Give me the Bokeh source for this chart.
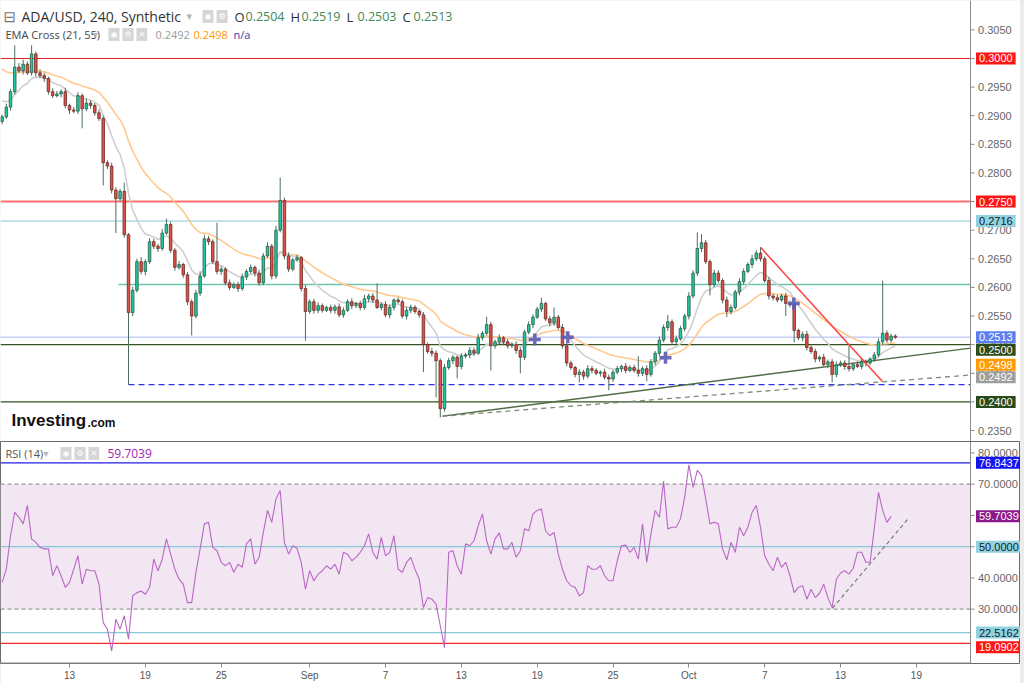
import numpy as np
from bokeh.plotting import figure
from bokeh.models import Range1d, Label, FixedTicker, ColumnDataSource, BoxAnnotation
from bokeh.core.properties import value
from bokeh.layouts import column
from bokeh.embed import file_html
from bokeh.resources import INLINE

# ---------------- data ----------------
start_day = 6.6667          # first candle, days after Aug 1 00:00
step_day = 1.0 / 3.0        # one candle per 8 hours
first_open = 0.2890

close = [
    0.2898, 0.2915, 0.2942, 0.2985, 0.2978, 0.2990, 0.2975, 0.3008, 0.2975, 0.2970,
    0.2965, 0.2942, 0.2935, 0.2938, 0.2942, 0.2918, 0.2910, 0.2908, 0.2935, 0.2912,
    0.2922, 0.2918, 0.2905, 0.2895, 0.2818, 0.2812, 0.2770, 0.2755, 0.2768, 0.2692,
    0.2556, 0.2595, 0.2645, 0.2628, 0.2645, 0.2680, 0.2672, 0.2668, 0.2695, 0.2710,
    0.2665, 0.2635, 0.2640, 0.2622, 0.2575, 0.2550, 0.2590, 0.2620, 0.2685, 0.2680,
    0.2645, 0.2628, 0.2632, 0.2608, 0.2600, 0.2605, 0.2598, 0.2618, 0.2628, 0.2635,
    0.2625, 0.2608, 0.2655, 0.2672, 0.2620, 0.2700, 0.2752, 0.2655, 0.2632, 0.2648,
    0.2652, 0.2598, 0.2558, 0.2575, 0.2560, 0.2568, 0.2560, 0.2565, 0.2560, 0.2566,
    0.2552, 0.2560, 0.2575, 0.2568, 0.2572, 0.2565, 0.2580, 0.2585, 0.2578, 0.2565,
    0.2570, 0.2552, 0.2565, 0.2578, 0.2575, 0.2550, 0.2560, 0.2565, 0.2558, 0.2552,
    0.2500, 0.2488, 0.2485, 0.2472, 0.2388, 0.2460, 0.2472, 0.2478, 0.2462, 0.2480,
    0.2482, 0.2490, 0.2485, 0.2512, 0.2520, 0.2535, 0.2498, 0.2505, 0.2512, 0.2505,
    0.2498, 0.2500, 0.2490, 0.2478, 0.2522, 0.2535, 0.2548, 0.2562, 0.2572, 0.2545,
    0.2538, 0.2548, 0.2530, 0.2498, 0.2468, 0.2460, 0.2448, 0.2452, 0.2445, 0.2458,
    0.2455, 0.2450, 0.2452, 0.2443, 0.2440, 0.2452, 0.2458, 0.2462, 0.2455, 0.2460,
    0.2455, 0.2450, 0.2458, 0.2448, 0.2470, 0.2485, 0.2508, 0.2530, 0.2540, 0.2505,
    0.2510, 0.2528, 0.2550, 0.2585, 0.2625, 0.2668, 0.2678, 0.2645, 0.2605, 0.2625,
    0.2612, 0.2578, 0.2558, 0.2565, 0.2592, 0.2610, 0.2628, 0.2640, 0.2650, 0.2660,
    0.2650, 0.2612, 0.2585, 0.2582, 0.2578, 0.2585, 0.2572, 0.2570, 0.2525, 0.2512,
    0.2518, 0.2495, 0.2488, 0.2475, 0.2478, 0.2465, 0.2470, 0.2448, 0.2465, 0.2468,
    0.2462, 0.2458, 0.2465, 0.2462, 0.2470, 0.2468, 0.2475, 0.2482, 0.2505, 0.2520,
    0.2508, 0.2515, 0.2513,
]

# wick lengths above / below the body, in units of 0.0001
upper_wick = [
    4, 6, 5, 38, 7, 8, 5, 15, 4, 6,
    5, 3, 6, 5, 4, 7, 3, 5, 6, 4,
    8, 5, 4, 6, 5, 4, 6, 5, 4, 15,
    3, 6, 5, 8, 4, 6, 5, 4, 7, 10,
    5, 4, 6, 3, 5, 4, 6, 8, 7, 5,
    4, 68, 5, 3, 6, 4, 5, 6, 4, 5,
    3, 6, 5, 7, 4, 8, 40, 5, 6, 4,
    5, 3, 6, 4, 5, 6, 4, 3, 5, 4,
    6, 5, 4, 6, 3, 5, 7, 4, 5, 29,
    4, 6, 5, 3, 5, 4, 6, 5, 4, 3,
    5, 4, 6, 5, 4, 6, 5, 4, 3, 5,
    4, 6, 5, 7, 4, 14, 5, 4, 6, 3,
    5, 4, 6, 5, 4, 6, 5, 4, 10, 3,
    5, 17, 4, 6, 5, 4, 3, 5, 4, 6,
    5, 4, 3, 6, 5, 4, 5, 3, 6, 4,
    5, 25, 4, 6, 5, 4, 6, 5, 12, 4,
    6, 5, 4, 7, 5, 28, 15, 5, 4, 6,
    5, 4, 6, 5, 4, 6, 5, 4, 7, 5,
    10, 4, 6, 3, 5, 4, 6, 5, 4, 3,
    5, 6, 4, 5, 3, 6, 4, 5, 6, 4,
    5, 36, 4, 6, 5, 4, 3, 5, 6, 92,
    5, 4, 3,
]
lower_wick = [
    5, 4, 6, 5, 3, 6, 4, 5, 7, 4,
    6, 5, 4, 3, 6, 5, 7, 4, 5, 34,
    4, 6, 5, 4, 40, 5, 6, 60, 4, 5,
    126, 6, 4, 5, 7, 4, 5, 6, 4, 3,
    5, 6, 4, 5, 6, 34, 4, 5, 3, 6,
    4, 5, 6, 4, 5, 3, 6, 4, 5, 4,
    6, 5, 4, 3, 6, 5, 4, 6, 5, 4,
    3, 5, 51, 4, 6, 5, 4, 3, 5, 6,
    4, 5, 3, 6, 4, 5, 4, 6, 5, 3,
    5, 4, 6, 5, 3, 4, 6, 5, 4, 5,
    48, 4, 6, 64, 15, 5, 4, 6, 21, 5,
    4, 6, 5, 3, 5, 4, 43, 5, 4, 6,
    5, 4, 6, 28, 5, 4, 6, 3, 5, 4,
    6, 5, 4, 5, 6, 4, 5, 14, 6, 4,
    5, 3, 6, 4, 20, 5, 4, 6, 5, 3,
    4, 6, 5, 12, 4, 6, 5, 4, 6, 5,
    4, 3, 5, 6, 4, 5, 6, 4, 19, 5,
    4, 6, 10, 5, 4, 6, 5, 3, 6, 4,
    5, 4, 6, 5, 4, 3, 22, 5, 21, 4,
    6, 5, 4, 6, 5, 3, 6, 14, 5, 4,
    6, 5, 4, 3, 5, 6, 4, 5, 4, 6,
    5, 4, 3,
]

rsi = [
    38.6, 42.8, 53.5, 61.0, 59.4, 57.3, 63.2, 52.5, 51.4, 49.8,
    49.3, 49.3, 40.7, 43.9, 40.7, 37.0, 38.6, 42.8, 47.1, 38.0,
    42.8, 42.3, 42.3, 38.0, 25.7, 23.6, 16.6, 26.8, 23.6, 27.9,
    20.4, 34.3, 35.3, 35.8, 34.8, 37.0, 46.0, 42.3, 46.0, 52.5,
    47.6, 42.8, 39.6, 38.0, 32.1, 32.1, 41.8, 49.3, 57.3, 57.8,
    49.8, 48.7, 45.0, 43.9, 45.0, 41.8, 44.4, 43.4, 50.9, 52.5,
    44.4, 46.6, 54.6, 61.6, 57.8, 65.3, 68.0, 51.4, 47.6, 50.3,
    49.5, 45.0, 36.4, 42.3, 39.1, 41.2, 42.3, 43.9, 42.8, 44.4,
    41.2, 48.2, 47.6, 45.5, 46.6, 48.2, 50.3, 54.1, 48.2, 46.0,
    53.0, 47.1, 48.2, 53.5, 42.8, 41.8, 45.0, 46.6, 42.8, 39.6,
    30.5, 33.7, 33.2, 31.6, 24.7, 17.7, 48.2, 48.7, 43.9, 41.2,
    50.9, 50.3, 51.9, 56.7, 60.5, 51.9, 47.6, 52.5, 54.4, 49.3,
    49.3, 51.4, 46.6, 48.7, 55.7, 55.1, 60.5, 61.6, 62.1, 55.1,
    53.5, 54.6, 47.6, 42.8, 39.1, 37.5, 37.0, 34.3, 35.3, 43.9,
    42.8, 42.8, 43.9, 40.7, 39.1, 39.1, 45.5, 50.3, 50.5, 48.2,
    49.8, 46.0, 57.3, 45.0, 54.1, 61.6, 59.4, 71.0, 55.7, 56.2,
    56.2, 58.9, 65.8, 76.2, 69.0, 74.4, 72.8, 65.3, 57.3, 57.8,
    57.3, 49.3, 45.8, 51.4, 48.2, 56.2, 53.5, 56.2, 61.0, 63.2,
    56.2, 47.1, 44.4, 42.3, 46.6, 43.4, 45.0, 40.7, 35.3, 37.0,
    37.5, 33.2, 36.4, 33.7, 35.1, 38.0, 33.7, 30.5, 39.6, 41.6,
    42.3, 41.2, 43.1, 48.2, 48.2, 45.0, 45.0, 55.7, 67.4, 61.6,
    57.8, 59.7,
]

ema_fast_seed = 0.2932   # EMA(21) value at the left edge
ema_slow_seed = 0.2988   # EMA(55) value at the left edge

tick_days = [12, 18, 24, 31, 37, 43, 49, 55, 61, 67, 73, 79]
tick_labels = ["13", "19", "25", "Sep", "7", "13", "19", "25", "Oct", "7", "13", "19"]
price_ticks = [0.2350, 0.2400, 0.2450, 0.2500, 0.2550, 0.2600, 0.2650, 0.2700,
               0.2750, 0.2800, 0.2850, 0.2900, 0.2950, 0.3000, 0.3050]
rsi_ticks = [30, 40, 50, 60, 70, 80]

# horizontal price levels
level_red_top = 0.3000
level_red_mid = 0.2750
level_blue_lt = 0.2716
level_teal = 0.2605
level_teal_from = 15.88
level_green_hi = 0.2500
level_green_lo = 0.2400
level_dash_blue = 0.2430
level_dash_from = 16.67
last_price = 0.2513

trend_solid_x = [41.51, 83.28]
trend_solid_y = [0.2375, 0.2494]
trend_dash_x = [41.51, 83.28]
trend_dash_y = [0.2375, 0.2447]
trend_red_x = [66.67, 76.30]
trend_red_y = [0.2670, 0.2436]
cross_x = [48.81, 51.42, 59.15, 69.30]
cross_y = [0.2509, 0.2513, 0.2477, 0.2572]

rsi_max_line = 76.8437
rsi_min_line = 19.0902
rsi_low_line = 22.5162
rsi_trend_x = [72.36, 78.38]
rsi_trend_y = [30.3, 59.1]

# ---------------- layout constants ----------------
X_START = 6.54           # left edge of the chart (days)
AXIS_X = 83.28           # where the price scale starts (days)
PX_PER_DAY = 12.64
FW = 1020                # frame width incl. the price-scale strip
X_END = X_START + FW / PX_PER_DAY
P1H = 441
P2H = 222
AX_FONT = "Liberation Sans"

# ---------------- derived series ----------------
n = len(close)
t = np.array([start_day + i * step_day for i in range(n)])
c = np.array(close)
o = np.array([first_open] + close[:-1])
hi = np.maximum(o, c) + np.array(upper_wick) * 1e-4
lo = np.minimum(o, c) - np.array(lower_wick) * 1e-4


def ema(vals, span, seed):
    a = 2.0 / (span + 1.0)
    e = seed
    out = []
    for v in vals:
        e = e + a * (v - e)
        out.append(e)
    return out


# EMA 21 / 55 on 4h bars == spans 10.5 / 27.5 on 8h bars
ema_fast = ema(close, 10.5, ema_fast_seed)
ema_slow = ema(close, 27.5, ema_slow_seed)

up = c >= o
src_up = ColumnDataSource(dict(x=t[up], top=c[up], bottom=o[up]))
src_dn = ColumnDataSource(dict(x=t[~up], top=o[~up], bottom=c[~up]))
src_wick = ColumnDataSource(dict(x=t, hi=hi, lo=lo))

XR = Range1d(X_START, X_END)

p1 = figure(frame_width=FW, frame_height=P1H, x_range=XR, y_range=Range1d(0.23308, 0.31013),
            output_backend="svg", toolbar_location=None, x_axis_location=None,
            y_axis_location=None, min_border_left=0, min_border_top=0,
            min_border_bottom=0, min_border_right=0)
p2 = figure(frame_width=FW, frame_height=P2H, x_range=XR, y_range=Range1d(12.62, 83.66),
            output_backend="svg", toolbar_location=None, y_axis_location=None,
            min_border_left=0, min_border_top=0, min_border_bottom=0, min_border_right=0)

for p in (p1, p2):
    p.grid.visible = False
    p.background_fill_color = "white"
    p.border_fill_color = "white"
p1.outline_line_color = None
p2.outline_line_color = "#6a6a6a"

xa = p2.xaxis[0]
xa.ticker = FixedTicker(ticks=tick_days)
xa.major_label_overrides = {d: s for d, s in zip(tick_days, tick_labels)}
xa.axis_line_color = None
xa.major_tick_line_color = "#8a8a8a"
xa.minor_tick_line_color = None
xa.major_tick_out = 4
xa.major_tick_in = 0
xa.major_label_standoff = 2
xa.major_label_text_font = AX_FONT
xa.major_label_text_font_size = "10px"
xa.major_label_text_color = "#555555"


# ---------------- price scale on the right (drawn inside the frame) ----------------
def price_scale(p, ticks, fmt):
    p.segment(x0=AXIS_X, y0=p.y_range.start, x1=AXIS_X, y1=p.y_range.end, line_color="#8a8a8a", line_width=1)
    p.segment(x0=[AXIS_X] * len(ticks), y0=ticks, x1=[AXIS_X + 4 / PX_PER_DAY] * len(ticks), y1=ticks,
              line_color="#8a8a8a", line_width=1)
    p.text(x=[AXIS_X + 7.5 / PX_PER_DAY] * len(ticks), y=ticks, text=[fmt % v for v in ticks],
           text_font=value(AX_FONT), text_font_size="11px", text_color="#666666",
           text_baseline="middle", text_align="left")


def hline(p, y, x0=X_START, **kw):
    p.segment(x0=[x0], y0=[y], x1=[AXIS_X], y1=[y], **kw)


# ---------------- price panel ----------------
hline(p1, level_red_top, line_color="#e02020", line_width=1)
hline(p1, level_red_mid, line_color="#ff7070", line_width=2)
hline(p1, level_blue_lt, line_color="#86c9d6", line_width=1)
hline(p1, level_teal, x0=level_teal_from, line_color="#6cc4ad", line_width=1.5)
hline(p1, level_green_hi, line_color="#33521f", line_width=1.2)
hline(p1, level_green_lo, line_color="#33521f", line_width=1.2)
hline(p1, level_dash_blue, x0=level_dash_from, line_color="#3030ee", line_width=1.2, line_dash="6 4")
hline(p1, last_price, line_color="#8a9cf5", line_width=1.5, line_dash="1 1")

p1.line(t, ema_slow, line_color="#ffc98e", line_width=1.6)
p1.line(t, ema_fast, line_color="#cfcfcf", line_width=1.6)

p1.segment(x0=trend_solid_x[0], y0=trend_solid_y[0], x1=trend_solid_x[1], y1=trend_solid_y[1],
           line_color="#506c44", line_width=1.3)
p1.segment(x0=trend_dash_x[0], y0=trend_dash_y[0], x1=trend_dash_x[1], y1=trend_dash_y[1],
           line_color="#7c8c74", line_width=1.3, line_dash="5 4")

p1.segment(x0="x", y0="hi", x1="x", y1="lo", source=src_wick, line_color="#4f6e5c", line_width=1)
p1.vbar(x="x", top="top", bottom="bottom", width=0.2, source=src_up,
        fill_color="#22c7a4", line_color="#2a5a44", line_width=0.8)
p1.vbar(x="x", top="top", bottom="bottom", width=0.2, source=src_dn,
        fill_color="#df5248", line_color="#6a2a22", line_width=0.8)

p1.segment(x0=trend_red_x[0], y0=trend_red_y[0], x1=trend_red_x[1], y1=trend_red_y[1],
           line_color="#ff4040", line_width=1.5)
p1.scatter(cross_x, cross_y, marker="cross", size=12, line_width=3.5, line_color="#5b5bb5", alpha=0.9)
price_scale(p1, price_ticks, "%.4f")

# ---------------- RSI panel ----------------
p2.add_layout(BoxAnnotation(bottom=30, top=70, left=X_START, right=AXIS_X, fill_color="#f3e6f3",
                            fill_alpha=1.0, line_color=None, level="underlay"))
hline(p2, 70, line_color="#9a9a9a", line_width=1.2, line_dash="4 3")
hline(p2, 30, line_color="#9a9a9a", line_width=1.2, line_dash="4 3")
hline(p2, rsi_max_line, line_color="#1f1fe6", line_width=1.2)
hline(p2, 50, line_color="#86c9d6", line_width=1.2)
hline(p2, rsi_low_line, line_color="#86c9d6", line_width=1.2)
hline(p2, rsi_min_line, line_color="#f22828", line_width=1.2)
p2.line(t[:len(rsi)], rsi, line_color="#b967c4", line_width=1.1)
p2.segment(x0=rsi_trend_x[0], y0=rsi_trend_y[0], x1=rsi_trend_x[1], y1=rsi_trend_y[1],
           line_color="#7a7a7a", line_width=1.2, line_dash="4 3")
price_scale(p2, rsi_ticks, "%.4f")
# bottom axis line only under the chart area
p2.segment(x0=[X_START], y0=[p2.y_range.start], x1=[AXIS_X], y1=[p2.y_range.start], line_color="#8a8a8a", line_width=2)


# ---------------- texts ----------------
def page_text(p, frame_top, frame_h, x, y_page, text, size, color, font="Open Sans",
              style="normal", bg=None, pad=0):
    lab = Label(x=x, y=frame_h - (y_page - frame_top), x_units="screen", y_units="screen",
                text=text, text_font=font, text_font_size=f"{size}px", text_color=color,
                text_font_style=style, text_baseline="middle", text_align="left")
    if bg is not None:
        lab.background_fill_color = bg
        lab.padding = pad
    p.add_layout(lab)


def icon(p, frame_top, frame_h, x, y_page, glyph):
    page_text(p, frame_top, frame_h, x, y_page, glyph, 8, "white", font="DejaVu Sans", bg="#d6d6d6", pad=2)


# header line 1
page_text(p1, 0, P1H, 3, 16, "\u229f", 15, "#777777", font="DejaVu Sans")
page_text(p1, 0, P1H, 21, 16, "ADA/USD, 240, Synthetic", 14, "#333333")
page_text(p1, 0, P1H, 186, 16, "\u25be", 11, "#b5b5b5", font="DejaVu Sans")
icon(p1, 0, P1H, 202, 16, "\u25c9")
icon(p1, 0, P1H, 216, 16, "\u2699")
for x0, letter, val in [(234, "O", "0.2504"), (290, "H", "0.2519"), (346, "L", "0.2503"), (402, "C", "0.2513")]:
    page_text(p1, 0, P1H, x0, 16, letter, 13, "#333333")
    page_text(p1, 0, P1H, x0 + 11, 16, val, 12.5, "#3f8a55")

# header line 2
page_text(p1, 0, P1H, 5, 34, "EMA Cross (21, 55)", 11, "#444444")
page_text(p1, 0, P1H, 92, 34, "\u25be", 10, "#b5b5b5", font="DejaVu Sans")
icon(p1, 0, P1H, 108, 34, "\u25c9")
icon(p1, 0, P1H, 122, 34, "\u2699")
icon(p1, 0, P1H, 136, 34, "\u2715")
page_text(p1, 0, P1H, 155, 34, "0.2492", 11, "#9a9a9a")
page_text(p1, 0, P1H, 193, 34, "0.2498", 11, "#ff9800")
page_text(p1, 0, P1H, 233, 34, "n/a", 11, "#3a3aa8")

# logo
page_text(p1, 0, P1H, 11, 420, "Investing", 17, "#111111", font="Liberation Sans", style="bold")
page_text(p1, 0, P1H, 87, 422, ".com", 12, "#111111", font="Liberation Sans", style="bold")

# RSI header
page_text(p2, P1H, P2H, 5, 453, "RSI (14)", 11, "#555555")
page_text(p2, P1H, P2H, 43, 453, "\u25be", 10, "#b5b5b5", font="DejaVu Sans")
icon(p2, P1H, P2H, 60, 453, "\u25c9")
icon(p2, P1H, P2H, 74, 453, "\u2699")
icon(p2, P1H, P2H, 88, 453, "\u2715")
page_text(p2, P1H, P2H, 107, 453, "59.7039", 12, "#9c27b0")

# value tags on the price scale: (value, text, background, text colour, pixel shift)
price_tags = [
    (0.3000, "0.3000", "#ff1515", "white", 0),
    (0.2750, "0.2750", "#ff1515", "white", 0),
    (0.2716, "0.2716", "#8fd3e3", "#1a1a1a", 0),
    (0.2513, "0.2513", "#5a7fee", "white", 0),
    (0.2500, "0.2500", "#2c4b1b", "white", -5),
    (0.2498, "0.2498", "#ff9a00", "white", -19),
    (0.2492, "0.2492", "#9e9e9e", "white", -28),
    (0.2400, "0.2400", "#2c4b1b", "white", 0),
]
rsi_tags = [
    (76.8437, "76.8437", "#1414f0", "white", 0),
    (59.7039, "59.7039", "#8b1a8b", "white", 0),
    (50.0, "50.0000", "#8fd3e3", "#1a1a1a", 0),
    (22.5162, "22.5162", "#8fd3e3", "#1a1a1a", 0),
    (19.0902, "19.0902", "#ff1515", "white", -4),
]
for p, tags in ((p1, price_tags), (p2, rsi_tags)):
    for v, s, bg, fg, shift in tags:
        p.add_layout(Label(x=AXIS_X + 5.5 / PX_PER_DAY, y=v, x_units="data", y_units="data", y_offset=shift,
                           text=s, text_font=AX_FONT, text_font_size="11px", text_color=fg,
                           text_baseline="middle", text_align="left",
                           background_fill_color=bg, padding=(3, 2)))

layout = column(p1, p2, spacing=0, width=1024, height=683, styles={"background-color": "#ececec"})
open("out.html", "w").write(file_html(layout, INLINE))
